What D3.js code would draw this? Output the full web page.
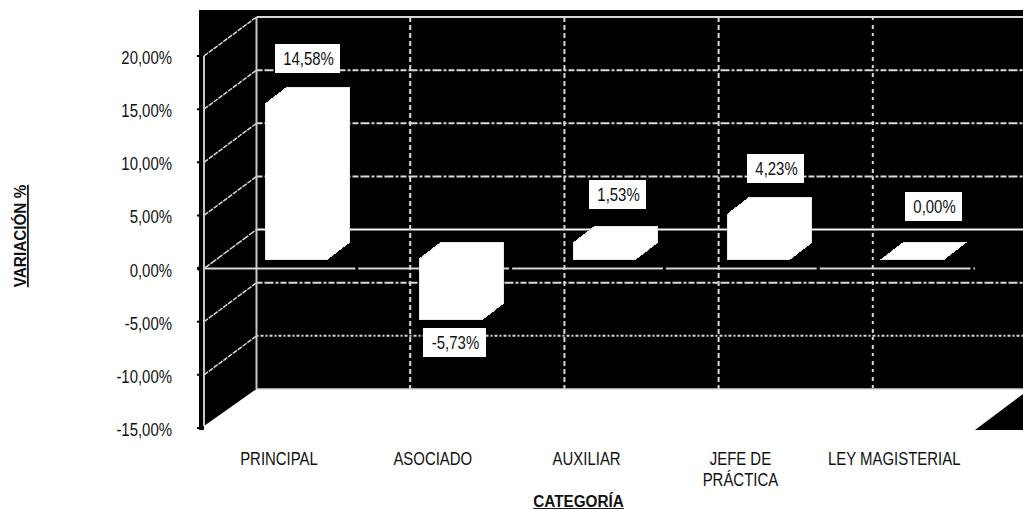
<!DOCTYPE html>
<html><head><meta charset="utf-8">
<script src="https://cdn.jsdelivr.net/npm/d3@7"></script>
<style>
html,body{margin:0;padding:0;background:#fff}
svg{display:block}
text{font-family:"Liberation Sans",Arial,sans-serif;fill:#111}
</style></head><body>
<script>
const categories=[["PRINCIPAL"],["ASOCIADO"],["AUXILIAR"],["JEFE DE","PRÁCTICA"],["LEY MAGISTERIAL"]];
const values=[14.58,-5.73,1.53,4.23,0.00];
const valueLabels=["14,58%","-5,73%","1,53%","4,23%","0,00%"];
const yTicks=[20,15,10,5,0,-5,-10,-15];
const yTickLabels=["20,00%","15,00%","10,00%","5,00%","0,00%","-5,00%","-10,00%","-15,00%"];
const yTitle="VARIACIÓN %";
const xTitle="CATEGORÍA";

const W=1023,H=509;
const svg=d3.select("body").append("svg").attr("width",W).attr("height",H);
const y=d3.scaleLinear().domain([-15,20]).range([428,56]);
const x=d3.scaleBand().domain(d3.range(5)).range([203,972]).paddingInner(0).paddingOuter(0);
const xBar=d3.scaleBand().domain(d3.range(5)).range([203,974]).paddingInner(0).paddingOuter(0);
const wall={dx:52.5,dy:-39};
const barNear={dx:10,dy:-9.5}, barFar={dx:31.5,dy:-26};
const barLeft=52.5, barW=62.5;
const lineCol="#d8d8d8";
const path=d3.line();
const squeeze=.83;
function label(px,py,s,size,anchor,opts){
  const t=svg.append("text").attr("transform",`translate(${px},${py}) ${opts&&opts.rotate?"rotate(-90) ":""}scale(${(opts&&opts.sx)||squeeze},1)`)
   .attr("text-anchor",anchor).attr("font-size",size).text(s);
  if(opts&&opts.bold) t.attr("font-weight","bold").attr("text-decoration","underline");
  return t;
}

// black wall silhouette
const yMin=y(-15), yMax=y(20), x0=x.range()[0]+1, x1=x.range()[1];
svg.append("path").attr("fill","#000").attr("d",path([
 [199,10],[W,10],[W,yMin+wall.dy],[x0+wall.dx,yMin+wall.dy],[x0,yMin-2],[204,yMin+2],[199,yMin+2]])+"Z");
svg.append("path").attr("fill","#000").attr("d",path([
 [x1+3,yMin+2],[W,yMin+wall.dy+5],[W,yMin+2]])+"Z");

// axis ticks outside the wall
svg.selectAll("line.tick").data(yTicks).join("line")
 .attr("x1",197).attr("x2",199).attr("y1",d=>y(d)).attr("y2",d=>y(d))
 .attr("stroke","#000").attr("stroke-width",d=>d===0?3:2);

// back-wall & side-wall gridlines
const gridDash=d=>d===-10?"2,2,3,2":"6,2,9,2,3,2";
yTicks.forEach(t=>{
  const yb=y(t)+wall.dy, solid=t===0||t===20||t===-15;
  svg.append("line").attr("x1",x0+wall.dx).attr("x2",W).attr("y1",yb).attr("y2",yb)
   .attr("stroke",t===0?"#f4f4f4":lineCol).attr("stroke-width",t===-15?1.5:2)
   .attr("stroke-dasharray",solid?null:gridDash(t));
  if(t>-15) svg.append("line").attr("x1",x0).attr("x2",x0+wall.dx).attr("y1",y(t)).attr("y2",yb)
   .attr("stroke",lineCol).attr("stroke-width",1.5).attr("stroke-dasharray",t===0?"7,1":"5,1");
});
d3.range(1,5).forEach(i=>{
  const xb=xBar(i)+wall.dx+.5;
  svg.append("line").attr("x1",xb).attr("x2",xb).attr("y1",yMax+wall.dy).attr("y2",yMin+wall.dy)
   .attr("stroke",lineCol).attr("stroke-width",2).attr("stroke-dasharray",i===4?"3,5,4,4":"5,3");
});
[x0,x0+wall.dx].forEach((xx,i)=>svg.append("line").attr("x1",xx).attr("x2",xx)
  .attr("y1",i?yMax+wall.dy:yMax).attr("y2",i?yMin+wall.dy:yMin-2).attr("stroke","#c8c8c8").attr("stroke-width",2));

// front zero line, broken by black category ticks
svg.append("line").attr("x1",x0).attr("x2",x1+3).attr("y1",y(0)).attr("y2",y(0))
 .attr("stroke",lineCol).attr("stroke-width",2);
d3.range(1,6).forEach(i=>svg.append("line").attr("x1",x(0)+x.step()*i).attr("x2",x(0)+x.step()*i)
 .attr("y1",y(0)-2).attr("y2",y(0)+2).attr("stroke","#000").attr("stroke-width",3));
svg.append("line").attr("x1",198).attr("x2",203).attr("y1",y(0)).attr("y2",y(0)).attr("stroke","#000").attr("stroke-width",4);

// bars: front, top and side all white
values.forEach((v,i)=>{
  const l=xBar(i)+barLeft+barNear.dx-.5, r=l+barW;
  const y0=y(0), yv=y(v), top=Math.min(y0,yv), bot=Math.max(y0,yv);
  svg.append("path").attr("fill","#fff").attr("stroke","#e8e8e8").attr("stroke-width",1)
   .attr("shape-rendering","crispEdges")
   .attr("d",path([
    [l,top+barNear.dy],
    [l+barFar.dx-barNear.dx,top+barFar.dy],
    [r+barFar.dx-barNear.dx,top+barFar.dy],
    [r+barFar.dx-barNear.dx,bot+barFar.dy],
    [r,bot+barNear.dy],
    [l,bot+barNear.dy]])+"Z");
});

// data labels (boxes were hand-placed in the original chart)
const labelBox=[[275,44,65],[423,328,63],[589,180,57],[747,154,57],[905,192,57]];
valueLabels.forEach((s,i)=>{
  const [bx,by,bw]=labelBox[i];
  svg.append("rect").attr("x",bx).attr("y",by).attr("width",bw).attr("height",29).attr("fill","#fff");
  label(bx+bw/2+1,by+21,s,18,"middle");
});

// tick labels
yTicks.forEach((t,i)=>label(172,y(t)+8,yTickLabels[i],18,"end"));
categories.forEach((c,i)=>c.forEach((ln,j)=>label(279+x.step()*i,465+j*21,ln,18,"middle")));

// axis titles
label(578.5,507,xTitle,17,"middle",{bold:true,sx:.9});
label(26,236,yTitle,17,"middle",{bold:true,rotate:true,sx:.9});
</script></body></html>
